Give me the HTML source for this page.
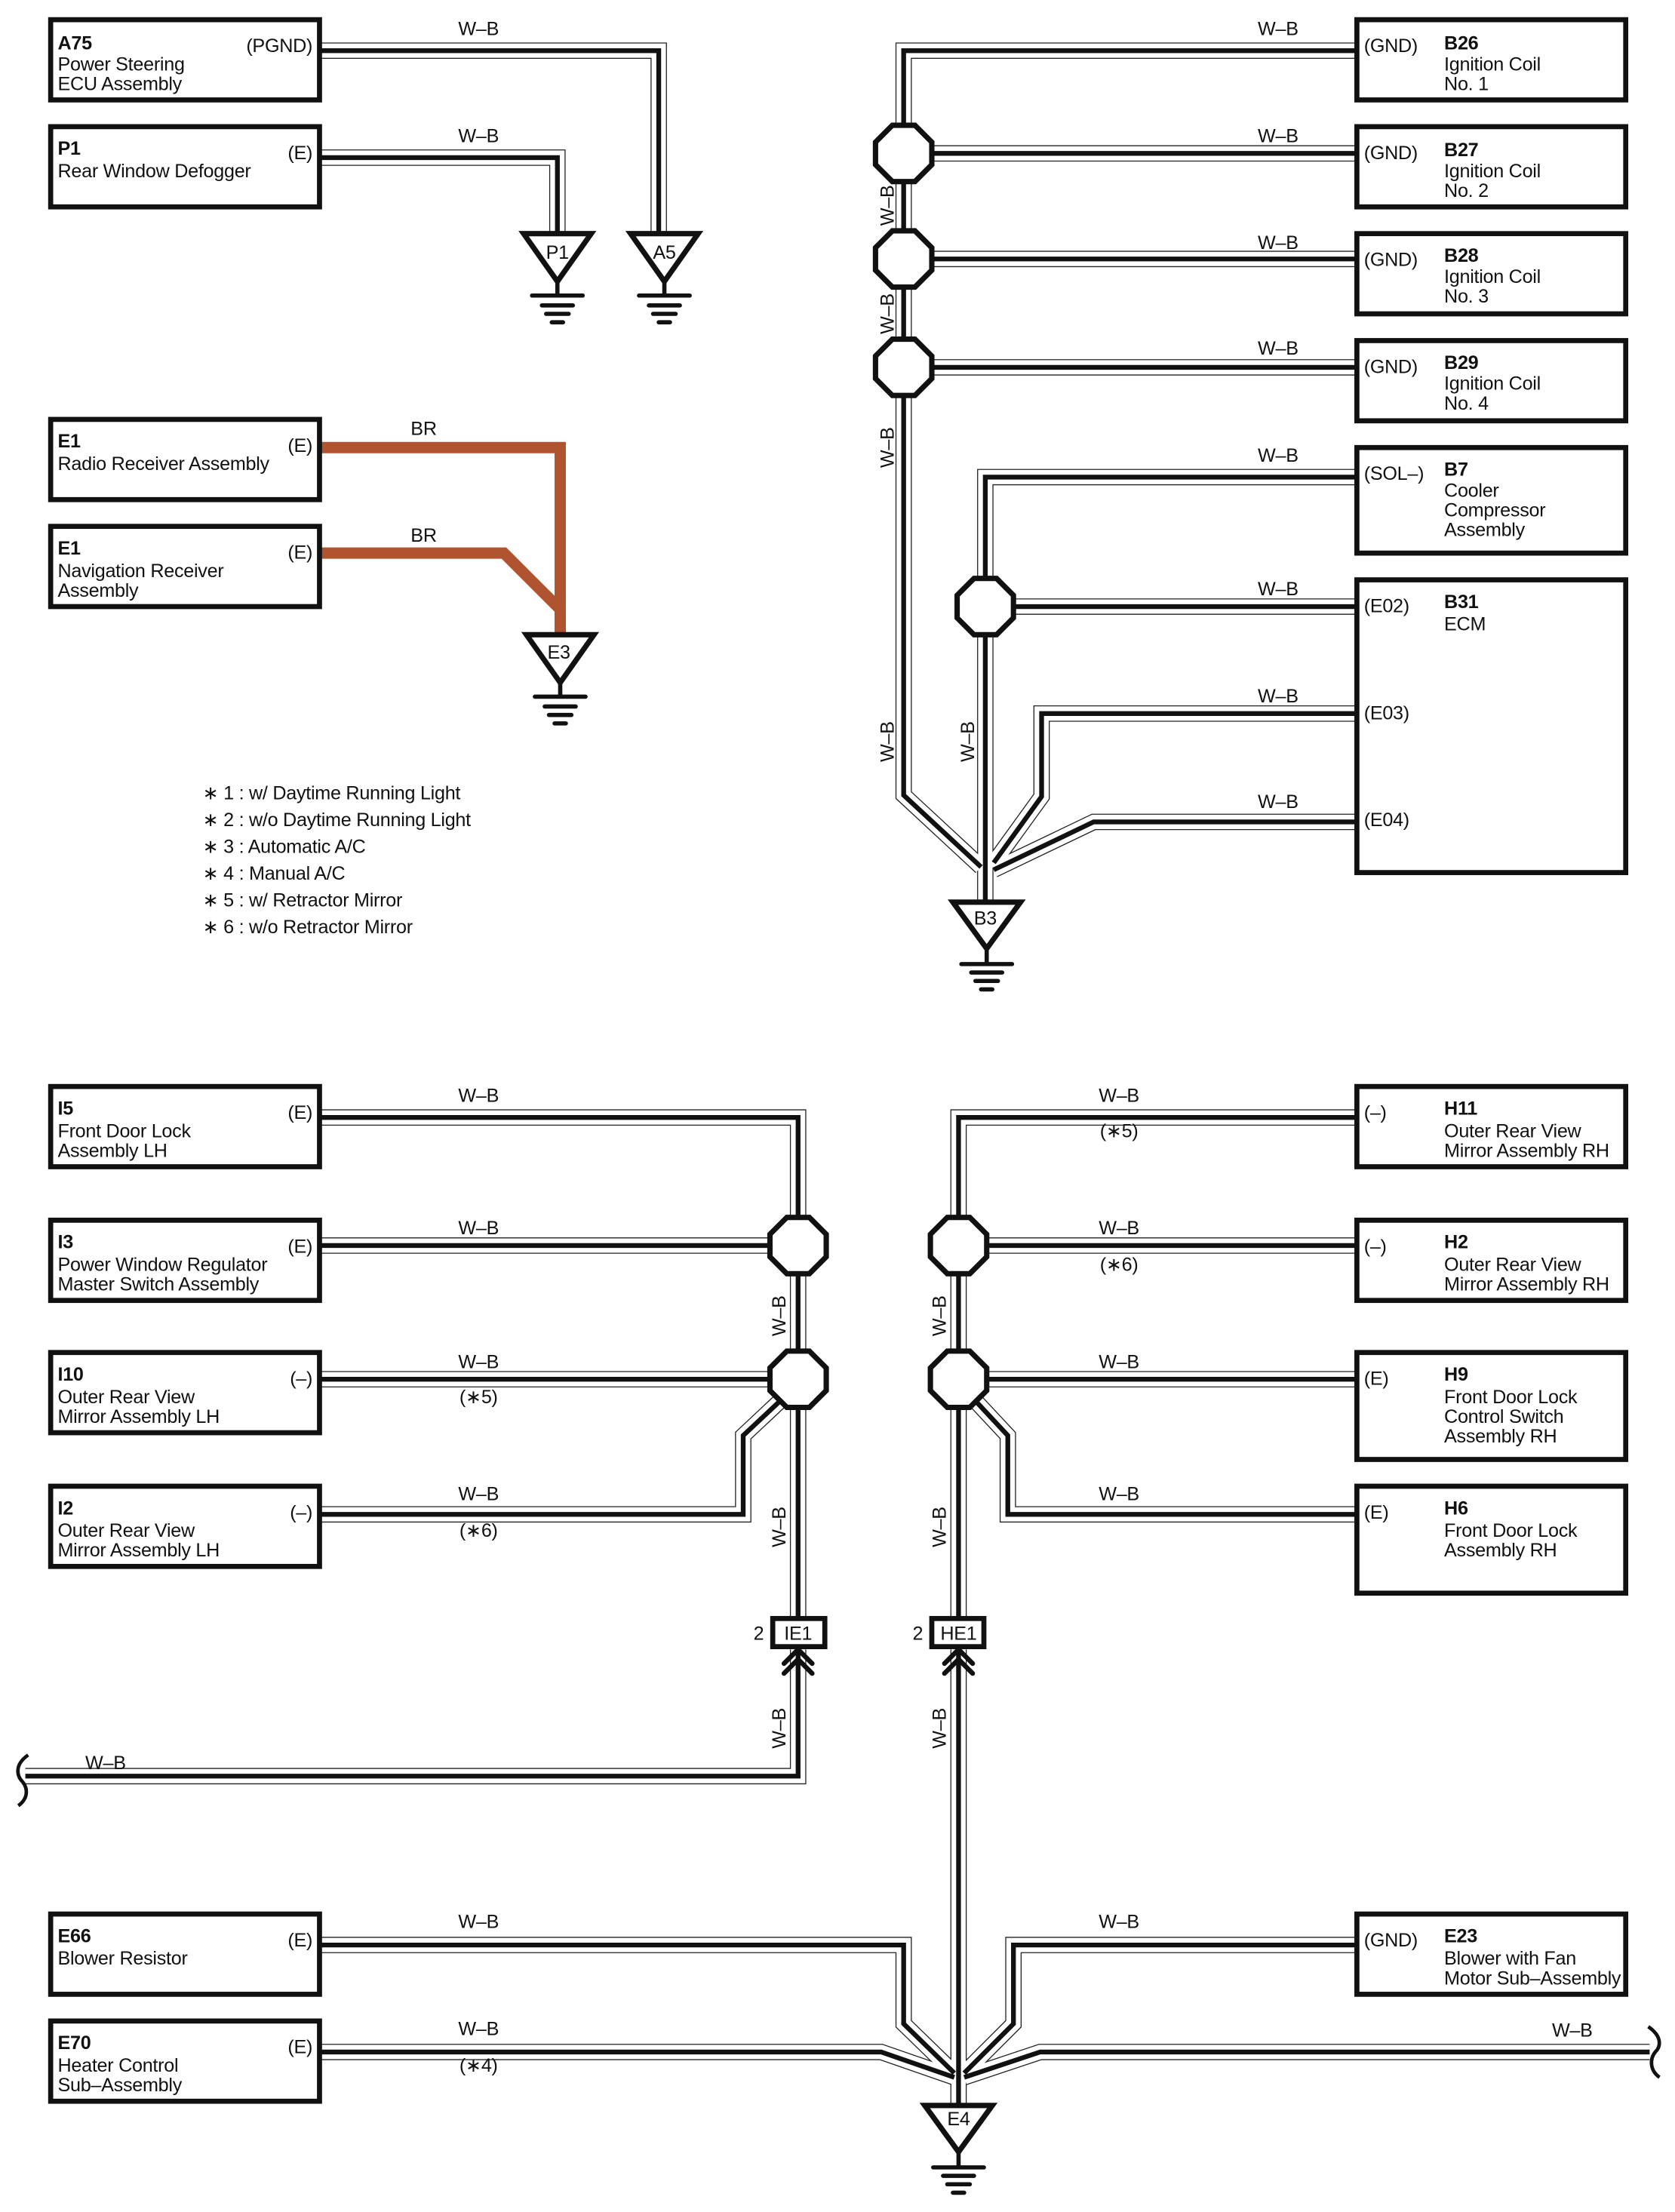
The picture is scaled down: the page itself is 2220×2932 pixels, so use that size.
<!DOCTYPE html>
<html><head><meta charset="utf-8">
<style>
html,body{margin:0;padding:0;background:#fff;}
svg{display:block;}
text{font-family:"Liberation Sans",Arial,sans-serif;font-size:13.5px;fill:#111;letter-spacing:-0.15px;}
.b{font-weight:bold;}
</style></head>
<body>
<svg width="2220" height="2932" viewBox="0 0 1190 1571.7" preserveAspectRatio="none" xmlns="http://www.w3.org/2000/svg">
<defs>
<path id="w1" d="M227 36 H468 V165"/>
<path id="w2" d="M227 112 H396 V165"/>
<path id="r1" d="M964 36 H642 V565 L697 616"/>
<path id="r2" d="M642 109 H964"/>
<path id="r3" d="M642 184 H964"/>
<path id="r4" d="M642 261 H964"/>
<path id="r5" d="M964 339 H700 V641"/>
<path id="r6" d="M700 431 H964"/>
<path id="r7" d="M964 507 H740 V566 L706 613"/>
<path id="r8" d="M964 584 H777 L706 618"/>
<path id="l1" d="M227 794 H567 V1150"/>
<path id="l2" d="M227 885 H567"/>
<path id="l3" d="M227 980 H567"/>
<path id="l4" d="M227 1076 H528 V1020 L560 990"/>
<path id="l5" d="M567 1172 V1262 H18"/>
<path id="h1" d="M964 794 H681 V1150"/>
<path id="h2" d="M681 885 H964"/>
<path id="h3" d="M681 980 H964"/>
<path id="h4" d="M964 1076 H716 V1020 L688 990"/>
<path id="h5" d="M681 1172 V1496"/>
<path id="e1" d="M227 1382 H642 V1438 L678 1473"/>
<path id="e2" d="M227 1458 H626 L678 1476"/>
<path id="e3" d="M964 1382 H720 V1438 L685 1473"/>
<path id="e4" d="M1172 1458 H739 L685 1476"/>
</defs>

<g fill="none" stroke="#222" stroke-width="11.6" stroke-linejoin="miter">
<use href="#w1"/><use href="#w2"/><use href="#r1"/><use href="#r2"/><use href="#r3"/><use href="#r4"/><use href="#r5"/><use href="#r6"/><use href="#r7"/><use href="#r8"/>
<use href="#l1"/><use href="#l2"/><use href="#l3"/><use href="#l4"/><use href="#l5"/>
<use href="#h1"/><use href="#h2"/><use href="#h3"/><use href="#h4"/><use href="#h5"/>
<use href="#e1"/><use href="#e2"/><use href="#e3"/><use href="#e4"/>
</g>
<g fill="none" stroke="#fff" stroke-width="10.2" stroke-linejoin="miter">
<use href="#w1"/><use href="#w2"/><use href="#r1"/><use href="#r2"/><use href="#r3"/><use href="#r4"/><use href="#r5"/><use href="#r6"/><use href="#r7"/><use href="#r8"/>
<use href="#l1"/><use href="#l2"/><use href="#l3"/><use href="#l4"/><use href="#l5"/>
<use href="#h1"/><use href="#h2"/><use href="#h3"/><use href="#h4"/><use href="#h5"/>
<use href="#e1"/><use href="#e2"/><use href="#e3"/><use href="#e4"/>
</g>
<g fill="none" stroke="#111" stroke-width="3.4" stroke-linejoin="miter">
<use href="#w1"/><use href="#w2"/><use href="#r1"/><use href="#r2"/><use href="#r3"/><use href="#r4"/><use href="#r5"/><use href="#r6"/><use href="#r7"/><use href="#r8"/>
<use href="#l1"/><use href="#l2"/><use href="#l3"/><use href="#l4"/><use href="#l5"/>
<use href="#h1"/><use href="#h2"/><use href="#h3"/><use href="#h4"/><use href="#h5"/>
<use href="#e1"/><use href="#e2"/><use href="#e3"/><use href="#e4"/>
</g>

<g fill="none" stroke="#b0532f" stroke-width="8" stroke-linejoin="miter">
<path d="M227 318 H398 V452"/>
<path d="M227 393 H358 L398 433 V452"/>
</g>

<g fill="none" stroke="#111" stroke-width="2.5">
<path d="M20 1247 C10 1254 12 1262 16 1266 C20 1271 20 1278 13 1283"/>
<path d="M1171 1440 C1181 1447 1180 1454 1176 1458 C1172 1463 1172 1471 1179 1476"/>
</g>

<g fill="#fff" stroke="#111" stroke-width="3.8">
<polygon points="634,89 650,89 662,101 662,117 650,129 634,129 622,117 622,101"/>
<polygon points="634,164 650,164 662,176 662,192 650,204 634,204 622,192 622,176"/>
<polygon points="634,241 650,241 662,253 662,269 650,281 634,281 622,269 622,253"/>
<polygon points="692,411 708,411 720,423 720,439 708,451 692,451 680,439 680,423"/>
<polygon points="559,865 575,865 587,877 587,893 575,905 559,905 547,893 547,877"/>
<polygon points="559,960 575,960 587,972 587,988 575,1000 559,1000 547,988 547,972"/>
<polygon points="673,865 689,865 701,877 701,893 689,905 673,905 661,893 661,877"/>
<polygon points="673,960 689,960 701,972 701,988 689,1000 673,1000 661,988 661,972"/>
</g>

<g fill="none" stroke="#111" stroke-width="3.6">
<rect x="36" y="14" width="191" height="57"/>
<rect x="36" y="90" width="191" height="57"/>
<rect x="36" y="298" width="191" height="57"/>
<rect x="36" y="374" width="191" height="57"/>
<rect x="36" y="772" width="191" height="57"/>
<rect x="36" y="867" width="191" height="57"/>
<rect x="36" y="961" width="191" height="57"/>
<rect x="36" y="1056" width="191" height="57"/>
<rect x="36" y="1360" width="191" height="57"/>
<rect x="36" y="1436" width="191" height="57"/>
<rect x="964" y="14" width="191" height="57"/>
<rect x="964" y="90" width="191" height="57"/>
<rect x="964" y="166" width="191" height="57"/>
<rect x="964" y="242" width="191" height="57"/>
<rect x="964" y="318" width="191" height="75"/>
<rect x="964" y="412" width="191" height="208"/>
<rect x="964" y="772" width="191" height="57"/>
<rect x="964" y="867" width="191" height="57"/>
<rect x="964" y="961" width="191" height="76"/>
<rect x="964" y="1056" width="191" height="76"/>
<rect x="964" y="1360" width="191" height="57"/>
</g>

<g fill="#fff" stroke="#111" stroke-width="3.6">
<rect x="549" y="1150" width="37" height="20"/>
<rect x="662" y="1150" width="37" height="20"/>
</g>
<g fill="none" stroke="#111" stroke-width="3.4" stroke-linecap="round">
<path d="M557 1182 L567 1172 L577 1182"/><path d="M557 1189 L567 1179 L577 1189"/>
<path d="M671 1182 L681 1172 L691 1182"/><path d="M671 1189 L681 1179 L691 1189"/>
</g>
<text x="567" y="1165" text-anchor="middle">IE1</text>
<text x="681" y="1165" text-anchor="middle">HE1</text>
<text x="539" y="1165" text-anchor="middle">2</text>
<text x="652" y="1165" text-anchor="middle">2</text>

<g fill="#fff" stroke="#111" stroke-width="3.8" stroke-linejoin="miter">
<polygon points="372,166 420,166 396,200"/>
<polygon points="448,166 496,166 472,200"/>
<polygon points="374,451 422,451 398,485"/>
<polygon points="677,641 725,641 701,674"/>
<polygon points="657,1496 705,1496 681,1529"/>
</g>
<g stroke="#111" stroke-width="3" stroke-linecap="round" fill="none">
<path d="M396 200 V210 M378 210 H414 M385 217 H407 M388 223 H404 M392 229 H400"/>
<path d="M472 200 V210 M454 210 H490 M461 217 H483 M464 223 H480 M468 229 H476"/>
<path d="M398 485 V495 M380 495 H416 M387 502 H409 M390 508 H406 M394 514 H402"/>
<path d="M701 674 V685 M683 685 H719 M690 691 H712 M693 697 H709 M697 703 H705"/>
<path d="M681 1529 V1540 M663 1540 H699 M670 1546 H692 M673 1552 H689 M677 1558 H685"/>
</g>
<text x="396" y="184" text-anchor="middle">P1</text>
<text x="472" y="184" text-anchor="middle">A5</text>
<text x="397" y="468" text-anchor="middle">E3</text>
<text x="700" y="657" text-anchor="middle">B3</text>
<text x="681" y="1510" text-anchor="middle">E4</text>

<text x="41" y="35" class="b">A75</text><text x="41" y="50">Power Steering</text><text x="41" y="64">ECU Assembly</text>
<text x="222" y="37" text-anchor="end">(PGND)</text>
<text x="41" y="110" class="b">P1</text><text x="41" y="126">Rear Window Defogger</text>
<text x="222" y="113" text-anchor="end">(E)</text>
<text x="41" y="318" class="b">E1</text><text x="41" y="334">Radio Receiver Assembly</text>
<text x="222" y="321" text-anchor="end">(E)</text>
<text x="41" y="394" class="b">E1</text><text x="41" y="410">Navigation Receiver</text><text x="41" y="424">Assembly</text>
<text x="222" y="397" text-anchor="end">(E)</text>
<text x="41" y="792" class="b">I5</text><text x="41" y="808">Front Door Lock</text><text x="41" y="822">Assembly LH</text>
<text x="222" y="795" text-anchor="end">(E)</text>
<text x="41" y="887" class="b">I3</text><text x="41" y="903">Power Window Regulator</text><text x="41" y="917">Master Switch Assembly</text>
<text x="222" y="890" text-anchor="end">(E)</text>
<text x="41" y="981" class="b">I10</text><text x="41" y="997">Outer Rear View</text><text x="41" y="1011">Mirror Assembly LH</text>
<text x="222" y="984" text-anchor="end">(–)</text>
<text x="41" y="1076" class="b">I2</text><text x="41" y="1092">Outer Rear View</text><text x="41" y="1106">Mirror Assembly LH</text>
<text x="222" y="1079" text-anchor="end">(–)</text>
<text x="41" y="1380" class="b">E66</text><text x="41" y="1396">Blower Resistor</text>
<text x="222" y="1383" text-anchor="end">(E)</text>
<text x="41" y="1456" class="b">E70</text><text x="41" y="1472">Heater Control</text><text x="41" y="1486">Sub–Assembly</text>
<text x="222" y="1459" text-anchor="end">(E)</text>

<text x="969" y="37">(GND)</text><text x="1026" y="35" class="b">B26</text><text x="1026" y="50">Ignition Coil</text><text x="1026" y="64">No. 1</text>
<text x="969" y="113">(GND)</text><text x="1026" y="111" class="b">B27</text><text x="1026" y="126">Ignition Coil</text><text x="1026" y="140">No. 2</text>
<text x="969" y="189">(GND)</text><text x="1026" y="186" class="b">B28</text><text x="1026" y="201">Ignition Coil</text><text x="1026" y="215">No. 3</text>
<text x="969" y="265">(GND)</text><text x="1026" y="262" class="b">B29</text><text x="1026" y="277">Ignition Coil</text><text x="1026" y="291">No. 4</text>
<text x="969" y="341">(SOL–)</text><text x="1026" y="338" class="b">B7</text><text x="1026" y="353">Cooler</text><text x="1026" y="367">Compressor</text><text x="1026" y="381">Assembly</text>
<text x="969" y="435">(E02)</text><text x="1026" y="432" class="b">B31</text><text x="1026" y="448">ECM</text>
<text x="969" y="511">(E03)</text>
<text x="969" y="587">(E04)</text>
<text x="969" y="795">(–)</text><text x="1026" y="792" class="b">H11</text><text x="1026" y="808">Outer Rear View</text><text x="1026" y="822">Mirror Assembly RH</text>
<text x="969" y="890">(–)</text><text x="1026" y="887" class="b">H2</text><text x="1026" y="903">Outer Rear View</text><text x="1026" y="917">Mirror Assembly RH</text>
<text x="969" y="984">(E)</text><text x="1026" y="981" class="b">H9</text><text x="1026" y="997">Front Door Lock</text><text x="1026" y="1011">Control Switch</text><text x="1026" y="1025">Assembly RH</text>
<text x="969" y="1079">(E)</text><text x="1026" y="1076" class="b">H6</text><text x="1026" y="1092">Front Door Lock</text><text x="1026" y="1106">Assembly RH</text>
<text x="969" y="1383">(GND)</text><text x="1026" y="1380" class="b">E23</text><text x="1026" y="1396">Blower with Fan</text><text x="1026" y="1410">Motor Sub–Assembly</text>

<g text-anchor="middle">
<text x="340" y="25">W–B</text><text x="340" y="101">W–B</text>
<text x="301" y="309">BR</text><text x="301" y="385">BR</text>
<text x="908" y="25">W–B</text><text x="908" y="101">W–B</text><text x="908" y="177">W–B</text><text x="908" y="252">W–B</text>
<text x="908" y="328">W–B</text><text x="908" y="423">W–B</text><text x="908" y="499">W–B</text><text x="908" y="574">W–B</text>
<text x="340" y="783">W–B</text><text x="340" y="877">W–B</text><text x="340" y="972">W–B</text><text x="340" y="997">(∗5)</text>
<text x="340" y="1066">W–B</text><text x="340" y="1092">(∗6)</text>
<text x="795" y="783">W–B</text><text x="795" y="808">(∗5)</text><text x="795" y="877">W–B</text><text x="795" y="903">(∗6)</text>
<text x="795" y="972">W–B</text><text x="795" y="1066">W–B</text>
<text x="75" y="1257">W–B</text>
<text x="340" y="1370">W–B</text><text x="340" y="1446">W–B</text><text x="340" y="1472">(∗4)</text>
<text x="795" y="1370">W–B</text><text x="1117" y="1447">W–B</text>
</g>
<g text-anchor="middle">
<text transform="translate(635,146) rotate(-90)">W–B</text>
<text transform="translate(635,223) rotate(-90)">W–B</text>
<text transform="translate(635,318) rotate(-90)">W–B</text>
<text transform="translate(635,527) rotate(-90)">W–B</text>
<text transform="translate(692,527) rotate(-90)">W–B</text>
<text transform="translate(558,935) rotate(-90)">W–B</text>
<text transform="translate(558,1085) rotate(-90)">W–B</text>
<text transform="translate(558,1228) rotate(-90)">W–B</text>
<text transform="translate(672,935) rotate(-90)">W–B</text>
<text transform="translate(672,1085) rotate(-90)">W–B</text>
<text transform="translate(672,1228) rotate(-90)">W–B</text>
</g>

<text x="144" y="568">∗ 1 : w/ Daytime Running Light</text>
<text x="144" y="587">∗ 2 : w/o Daytime Running Light</text>
<text x="144" y="606">∗ 3 : Automatic A/C</text>
<text x="144" y="625">∗ 4 : Manual A/C</text>
<text x="144" y="644">∗ 5 : w/ Retractor Mirror</text>
<text x="144" y="663">∗ 6 : w/o Retractor Mirror</text>
</svg>
</body></html>
